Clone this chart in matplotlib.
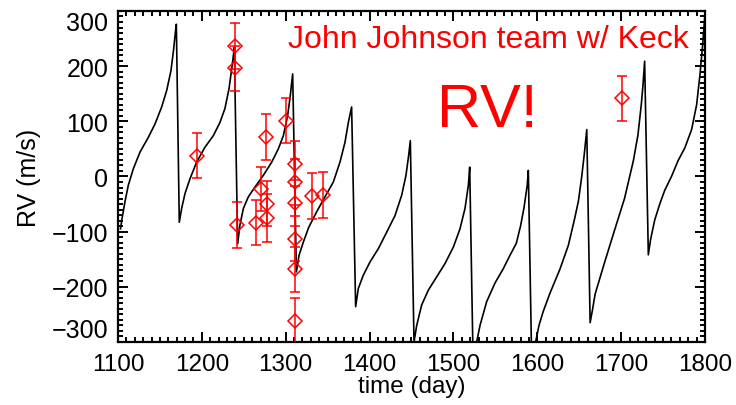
import matplotlib
matplotlib.use("Agg")
import matplotlib.pyplot as plt
from matplotlib.ticker import AutoMinorLocator


# =========================
# Data
# =========================

# orbit model curve (day, m/s), one row per orbit
model_time = [
    1103, 1105, 1108.3, 1112.3, 1118.3, 1126.2, 1136.2, 1144.1, 1152.1, 1158.1,
    1163.2, 1166.4, 1168.4, 1169.6,
    1173.1, 1175.9, 1179.9, 1185.9, 1193.8, 1203.7, 1213.7, 1221.6, 1227.5,
    1232.4, 1235.6, 1237.6, 1238.7,
    1242.7, 1245.3, 1249.5, 1255.4, 1263.4, 1273.3, 1283.3, 1291.2, 1297.2,
    1302.3, 1305.5, 1308.3,
    1312.7, 1315.9, 1321.0, 1327.5, 1336.9, 1346.8, 1356.8, 1364.7, 1370.7,
    1374.7, 1378.6,
    1383.4, 1386.6, 1392.5, 1400.5, 1410.4, 1420.4, 1430.3, 1438.3, 1443.4,
    1446.6, 1448.6,
    1453.0, 1456.2, 1462.1, 1470.1, 1480.0, 1489.9, 1499.9, 1507.8, 1513.8,
    1517.8, 1519.4,
    1523.5, 1527.7, 1531.7, 1539.6, 1549.6, 1559.5, 1567.4, 1575, 1580, 1584,
    1588, 1589.3,
    1593.5, 1598, 1602, 1607, 1615, 1627, 1637, 1644, 1649, 1653, 1656, 1659,
    1663, 1666, 1669, 1680, 1692, 1704, 1714.5, 1720, 1724, 1726, 1728,
    1732.4, 1735, 1740, 1746, 1752, 1760, 1768, 1776, 1784, 1790, 1794, 1797,
    1800,
]
model_rv = [
    -95, -75, -46, -16, 14, 44, 71, 95, 126, 156,
    192, 231, 261, 276,
    -83, -58, -31, -4, 26, 53, 74, 98, 123,
    159, 195, 219, 234,
    -122, -89, -58, -37, -19, 2, 26, 50, 74,
    110, 147, 186,
    -173, -143, -119, -92, -64, -37, -10, 26, 62,
    98, 126,
    -236, -203, -179, -155, -131, -101, -71, -34, 2,
    38, 65,
    -300, -270, -233, -206, -182, -158, -128, -95, -58,
    -16, 17,
    -340, -300, -270, -227, -193, -167, -143, -121, -90, -58,
    -16, 11,
    -350, -300, -270, -245, -212, -168, -125, -80, -45, 0, 40, 85,
    -265, -240, -213, -157, -98, -40, 28, 75, 130, 165, 209,
    -142, -115, -79, -50, -25, 0, 29, 52, 85, 130, 185, 235,
    295,
]

# Keck measurements
obs_time = [1194, 1240, 1240, 1242, 1265, 1270.5, 1276, 1278, 1278, 1300,
            1311, 1311, 1311, 1311, 1311.5, 1311.5, 1331, 1345, 1701]
obs_rv = [38, 236, 196, -88, -84, -23, 72, -49, -75, 101,
          23, -10, -48, -113, -168, -262, -35, -33, 142]
obs_err = [41, 42, 41, 41, 41, 40, 42, 41, 43, 41,
           41, 41, 41, 41, 41, 42, 42, 42, 41]

x_ticks = [1100, 1200, 1300, 1400, 1500, 1600, 1700, 1800]
y_ticks = [-300, -200, -100, 0, 100, 200, 300]


# =========================
# Style
# =========================

plt.rcParams["font.family"] = ["Liberation Sans", "DejaVu Sans"]
plt.rcParams["font.size"] = 18

RED = "#ff0000"


# =========================
# Plot
# =========================

fig = plt.figure(figsize=(7.36, 4.06), dpi=100)
ax = fig.add_axes([0.1603, 0.1552, 0.7976, 0.8153])

ax.plot(model_time, model_rv, color="black", linewidth=1.2, zorder=2)

ax.errorbar(
    obs_time,
    obs_rv,
    yerr=obs_err,
    fmt="D",
    markersize=7,
    markerfacecolor="none",
    markeredgecolor=RED,
    markeredgewidth=1.1,
    ecolor=RED,
    elinewidth=1.1,
    capsize=3.5,
    capthick=1.1,
    zorder=3,
)

ax.set_xlim(1100, 1800)
ax.set_ylim(-300, 300)

ax.set_xticks(x_ticks)
ax.set_yticks(y_ticks)
ax.set_yticklabels([f"{v}".replace("-", "\u2212") for v in y_ticks])

# keep the end labels inside the frame
ylabels = ax.get_yticklabels()
ylabels[0].set_verticalalignment("bottom")
ylabels[-1].set_verticalalignment("top")

ax.xaxis.set_minor_locator(AutoMinorLocator(10))
ax.yaxis.set_minor_locator(AutoMinorLocator(10))

ax.tick_params(which="both", direction="in", top=True, right=True,
               width=1.4)
ax.tick_params(which="major", length=7)
ax.tick_params(which="minor", length=3.5)
ax.tick_params(axis="x", which="major", pad=8, labelsize=17.5)
ax.tick_params(axis="y", which="major", pad=7, labelsize=18)

for spine in ax.spines.values():
    spine.set_linewidth(1.6)

ax.set_xlabel("time (day)", fontsize=17.5, labelpad=0)
ax.set_ylabel("RV (m/s)", fontsize=18, labelpad=8)

ax.text(0.972, 0.915, "John Johnson team w/ Keck", transform=ax.transAxes,
        ha="right", va="center", color=RED, fontsize=23)
ax.text(0.63, 0.70, "RV!", transform=ax.transAxes,
        ha="center", va="center", color=RED, fontsize=44)

fig.savefig("out.png", dpi=100)
